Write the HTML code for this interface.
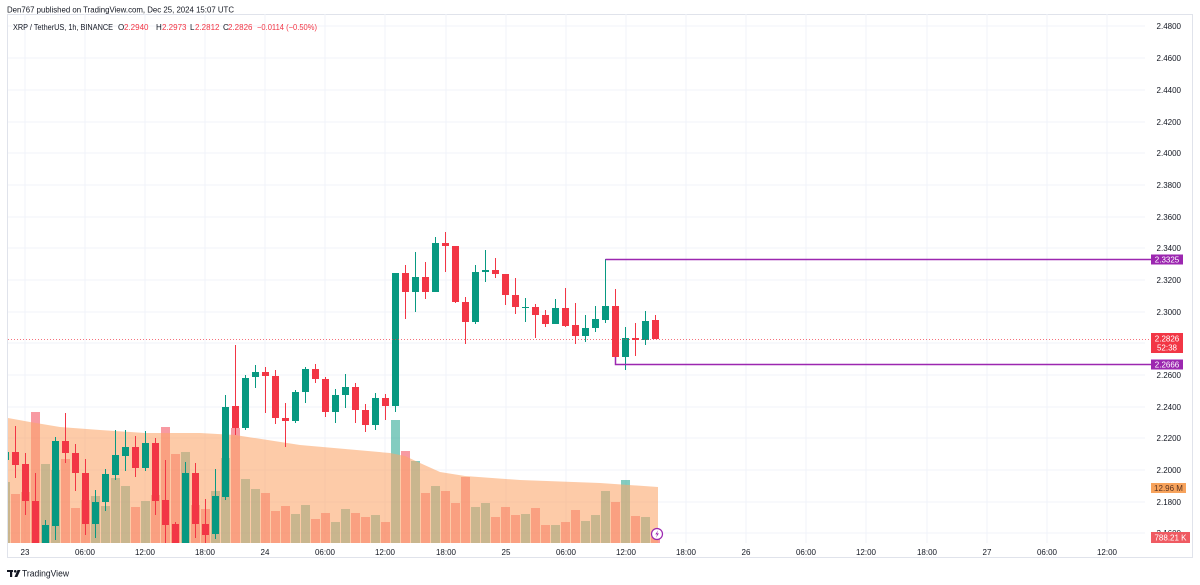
<!DOCTYPE html>
<html><head><meta charset="utf-8"><style>
html,body{margin:0;padding:0;background:#fff;}
svg{display:block;}
text{font-family:"Liberation Sans",sans-serif;}
.u{fill:rgba(8,153,129,0.5)}
.d{fill:rgba(242,54,69,0.5)}
.g{fill:#089981}
.r{fill:#f23645}
.ax{font-size:8px;fill:#131722}
</style></head><body>
<svg width="1200" height="585" viewBox="0 0 1200 585" xmlns="http://www.w3.org/2000/svg">
<defs><clipPath id="pl"><rect x="8" y="14" width="1137" height="529"/></clipPath></defs>
<rect x="0" y="0" width="1200" height="585" fill="#fff"/>
<rect x="7.5" y="14.5" width="1185" height="543" fill="none" stroke="#e0e3eb" stroke-width="1"/>
<g stroke="#f0f3fa" stroke-width="1" shape-rendering="crispEdges">
<line x1="8" y1="26" x2="1145" y2="26"/><line x1="8" y1="58" x2="1145" y2="58"/><line x1="8" y1="90" x2="1145" y2="90"/><line x1="8" y1="122" x2="1145" y2="122"/><line x1="8" y1="153" x2="1145" y2="153"/><line x1="8" y1="185" x2="1145" y2="185"/><line x1="8" y1="217" x2="1145" y2="217"/><line x1="8" y1="248" x2="1145" y2="248"/><line x1="8" y1="280" x2="1145" y2="280"/><line x1="8" y1="312" x2="1145" y2="312"/><line x1="8" y1="343" x2="1145" y2="343"/><line x1="8" y1="375" x2="1145" y2="375"/><line x1="8" y1="407" x2="1145" y2="407"/><line x1="8" y1="438" x2="1145" y2="438"/><line x1="8" y1="470" x2="1145" y2="470"/><line x1="8" y1="502" x2="1145" y2="502"/><line x1="8" y1="533" x2="1145" y2="533"/>
<line x1="25" y1="14" x2="25" y2="543"/><line x1="85" y1="14" x2="85" y2="543"/><line x1="145" y1="14" x2="145" y2="543"/><line x1="205" y1="14" x2="205" y2="543"/><line x1="265" y1="14" x2="265" y2="543"/><line x1="325" y1="14" x2="325" y2="543"/><line x1="385" y1="14" x2="385" y2="543"/><line x1="446" y1="14" x2="446" y2="543"/><line x1="506" y1="14" x2="506" y2="543"/><line x1="566" y1="14" x2="566" y2="543"/><line x1="626" y1="14" x2="626" y2="543"/><line x1="686" y1="14" x2="686" y2="543"/><line x1="746" y1="14" x2="746" y2="543"/><line x1="806" y1="14" x2="806" y2="543"/><line x1="866" y1="14" x2="866" y2="543"/><line x1="927" y1="14" x2="927" y2="543"/><line x1="987" y1="14" x2="987" y2="543"/><line x1="1047" y1="14" x2="1047" y2="543"/><line x1="1107" y1="14" x2="1107" y2="543"/>
</g>
<g clip-path="url(#pl)" shape-rendering="crispEdges">
<rect class="u" x="1" y="482" width="9" height="61"/>
<rect class="d" x="11" y="494" width="9" height="49"/>
<rect class="d" x="21" y="492" width="9" height="51"/>
<rect class="d" x="31" y="412" width="9" height="131"/>
<rect class="u" x="41" y="464" width="9" height="79"/>
<rect class="u" x="51" y="470" width="9" height="73"/>
<rect class="d" x="61" y="459" width="9" height="84"/>
<rect class="d" x="71" y="508" width="9" height="35"/>
<rect class="d" x="81" y="500" width="9" height="43"/>
<rect class="u" x="91" y="496" width="9" height="47"/>
<rect class="u" x="101" y="506" width="9" height="37"/>
<rect class="u" x="111" y="478" width="9" height="65"/>
<rect class="u" x="121" y="486" width="9" height="57"/>
<rect class="d" x="131" y="507" width="9" height="36"/>
<rect class="u" x="141" y="501" width="9" height="42"/>
<rect class="d" x="151" y="495" width="9" height="48"/>
<rect class="d" x="161" y="427" width="9" height="116"/>
<rect class="d" x="171" y="454" width="9" height="89"/>
<rect class="u" x="181" y="452" width="9" height="91"/>
<rect class="d" x="191" y="505" width="9" height="38"/>
<rect class="d" x="201" y="509" width="9" height="34"/>
<rect class="u" x="211" y="491" width="9" height="52"/>
<rect class="u" x="221" y="458" width="9" height="85"/>
<rect class="d" x="231" y="428" width="9" height="115"/>
<rect class="u" x="241" y="479" width="9" height="64"/>
<rect class="u" x="251" y="489" width="9" height="54"/>
<rect class="d" x="261" y="493" width="9" height="50"/>
<rect class="d" x="271" y="511" width="9" height="32"/>
<rect class="d" x="281" y="506" width="9" height="37"/>
<rect class="u" x="291" y="514" width="9" height="29"/>
<rect class="u" x="301" y="505" width="9" height="38"/>
<rect class="d" x="311" y="519" width="9" height="24"/>
<rect class="d" x="321" y="513" width="9" height="30"/>
<rect class="u" x="331" y="522" width="9" height="21"/>
<rect class="u" x="341" y="509" width="9" height="34"/>
<rect class="d" x="351" y="513" width="9" height="30"/>
<rect class="d" x="361" y="517" width="9" height="26"/>
<rect class="u" x="371" y="515" width="9" height="28"/>
<rect class="d" x="381" y="522" width="9" height="21"/>
<rect class="u" x="391" y="420" width="9" height="123"/>
<rect class="d" x="401" y="451" width="9" height="92"/>
<rect class="u" x="411" y="461" width="9" height="82"/>
<rect class="d" x="421" y="493" width="9" height="50"/>
<rect class="u" x="431" y="486" width="9" height="57"/>
<rect class="d" x="441" y="491" width="9" height="52"/>
<rect class="d" x="451" y="503" width="9" height="40"/>
<rect class="d" x="461" y="477" width="9" height="66"/>
<rect class="u" x="471" y="507" width="9" height="36"/>
<rect class="u" x="481" y="503" width="9" height="40"/>
<rect class="d" x="491" y="517" width="9" height="26"/>
<rect class="d" x="501" y="507" width="9" height="36"/>
<rect class="d" x="511" y="515" width="9" height="28"/>
<rect class="u" x="521" y="514" width="9" height="29"/>
<rect class="d" x="531" y="508" width="9" height="35"/>
<rect class="d" x="541" y="525" width="9" height="18"/>
<rect class="u" x="551" y="525" width="9" height="18"/>
<rect class="d" x="561" y="522" width="9" height="21"/>
<rect class="d" x="571" y="510" width="9" height="33"/>
<rect class="u" x="581" y="521" width="9" height="22"/>
<rect class="u" x="591" y="515" width="9" height="28"/>
<rect class="u" x="601" y="491" width="9" height="52"/>
<rect class="d" x="611" y="502" width="9" height="41"/>
<rect class="u" x="621" y="480" width="9" height="63"/>
<rect class="d" x="631" y="516" width="9" height="27"/>
<rect class="u" x="641" y="517" width="9" height="26"/>
<rect class="d" x="651" y="537" width="9" height="6"/>
</g>
<polygon clip-path="url(#pl)" fill="rgba(252,165,105,0.58)" points="8,418 30,422 60,427 100,430 145,433 200,433 235,435 300,445 390,453 405,456 420,463 440,472 465,476 520,480 600,483 658,487 658,543 8,543"/>
<g clip-path="url(#pl)" shape-rendering="crispEdges">
<g class="g"><rect x="5" y="449" width="1" height="14"/><rect x="2" y="452" width="7" height="8"/></g>
<g class="r"><rect x="15" y="426" width="1" height="52"/><rect x="12" y="452" width="7" height="13"/></g>
<g class="r"><rect x="25" y="453" width="1" height="62"/><rect x="22" y="464" width="7" height="37"/></g>
<g class="r"><rect x="35" y="473" width="1" height="70"/><rect x="32" y="501" width="7" height="42"/></g>
<g class="g"><rect x="45" y="520" width="1" height="23"/><rect x="42" y="525" width="7" height="18"/></g>
<g class="g"><rect x="55" y="437" width="1" height="103"/><rect x="52" y="441" width="7" height="85"/></g>
<g class="r"><rect x="65" y="413" width="1" height="50"/><rect x="62" y="441" width="7" height="12"/></g>
<g class="r"><rect x="75" y="444" width="1" height="47"/><rect x="72" y="453" width="7" height="20"/></g>
<g class="r"><rect x="85" y="459" width="1" height="76"/><rect x="82" y="473" width="7" height="51"/></g>
<g class="g"><rect x="95" y="490" width="1" height="48"/><rect x="92" y="502" width="7" height="22"/></g>
<g class="g"><rect x="105" y="469" width="1" height="42"/><rect x="102" y="474" width="7" height="28"/></g>
<g class="g"><rect x="115" y="430" width="1" height="50"/><rect x="112" y="455" width="7" height="20"/></g>
<g class="g"><rect x="125" y="430" width="1" height="41"/><rect x="122" y="447" width="7" height="9"/></g>
<g class="r"><rect x="135" y="436" width="1" height="41"/><rect x="132" y="447" width="7" height="21"/></g>
<g class="g"><rect x="145" y="431" width="1" height="40"/><rect x="142" y="443" width="7" height="25"/></g>
<g class="r"><rect x="155" y="438" width="1" height="77"/><rect x="152" y="443" width="7" height="58"/></g>
<g class="r"><rect x="165" y="460" width="1" height="83"/><rect x="162" y="500" width="7" height="25"/></g>
<g class="r"><rect x="175" y="522" width="1" height="21"/><rect x="172" y="524" width="7" height="19"/></g>
<g class="g"><rect x="185" y="462" width="1" height="81"/><rect x="182" y="473" width="7" height="70"/></g>
<g class="r"><rect x="195" y="463" width="1" height="75"/><rect x="192" y="473" width="7" height="51"/></g>
<g class="r"><rect x="205" y="499" width="1" height="44"/><rect x="202" y="524" width="7" height="11"/></g>
<g class="g"><rect x="215" y="469" width="1" height="70"/><rect x="212" y="496" width="7" height="38"/></g>
<g class="g"><rect x="225" y="395" width="1" height="105"/><rect x="222" y="407" width="7" height="90"/></g>
<g class="r"><rect x="235" y="345" width="1" height="90"/><rect x="232" y="406" width="7" height="22"/></g>
<g class="g"><rect x="245" y="375" width="1" height="55"/><rect x="242" y="378" width="7" height="50"/></g>
<g class="g"><rect x="255" y="365" width="1" height="23"/><rect x="252" y="372" width="7" height="5"/></g>
<g class="r"><rect x="265" y="367" width="1" height="46"/><rect x="262" y="372" width="7" height="4"/></g>
<g class="r"><rect x="275" y="370" width="1" height="54"/><rect x="272" y="376" width="7" height="42"/></g>
<g class="r"><rect x="285" y="403" width="1" height="44"/><rect x="282" y="418" width="7" height="3"/></g>
<g class="g"><rect x="295" y="390" width="1" height="33"/><rect x="292" y="392" width="7" height="29"/></g>
<g class="g"><rect x="305" y="367" width="1" height="36"/><rect x="302" y="369" width="7" height="23"/></g>
<g class="r"><rect x="315" y="364" width="1" height="19"/><rect x="312" y="369" width="7" height="10"/></g>
<g class="r"><rect x="325" y="377" width="1" height="40"/><rect x="322" y="379" width="7" height="33"/></g>
<g class="g"><rect x="335" y="389" width="1" height="34"/><rect x="332" y="395" width="7" height="17"/></g>
<g class="g"><rect x="345" y="374" width="1" height="34"/><rect x="342" y="387" width="7" height="8"/></g>
<g class="r"><rect x="355" y="383" width="1" height="40"/><rect x="352" y="387" width="7" height="23"/></g>
<g class="r"><rect x="365" y="404" width="1" height="28"/><rect x="362" y="410" width="7" height="15"/></g>
<g class="g"><rect x="375" y="393" width="1" height="37"/><rect x="372" y="398" width="7" height="27"/></g>
<g class="r"><rect x="385" y="394" width="1" height="26"/><rect x="382" y="398" width="7" height="8"/></g>
<g class="g"><rect x="395" y="273" width="1" height="139"/><rect x="392" y="273" width="7" height="133"/></g>
<g class="r"><rect x="405" y="265" width="1" height="54"/><rect x="402" y="273" width="7" height="19"/></g>
<g class="g"><rect x="415" y="252" width="1" height="60"/><rect x="412" y="277" width="7" height="15"/></g>
<g class="r"><rect x="425" y="262" width="1" height="37"/><rect x="422" y="277" width="7" height="15"/></g>
<g class="g"><rect x="435" y="237" width="1" height="55"/><rect x="432" y="243" width="7" height="49"/></g>
<g class="r"><rect x="445" y="232" width="1" height="40"/><rect x="442" y="243" width="7" height="3"/></g>
<g class="r"><rect x="455" y="246" width="1" height="57"/><rect x="452" y="246" width="7" height="56"/></g>
<g class="r"><rect x="465" y="297" width="1" height="47"/><rect x="462" y="302" width="7" height="20"/></g>
<g class="g"><rect x="475" y="265" width="1" height="59"/><rect x="472" y="272" width="7" height="50"/></g>
<g class="g"><rect x="485" y="250" width="1" height="32"/><rect x="482" y="270" width="7" height="2"/></g>
<g class="r"><rect x="495" y="258" width="1" height="20"/><rect x="492" y="270" width="7" height="4"/></g>
<g class="r"><rect x="505" y="274" width="1" height="31"/><rect x="502" y="274" width="7" height="21"/></g>
<g class="r"><rect x="515" y="278" width="1" height="36"/><rect x="512" y="295" width="7" height="12"/></g>
<g class="g"><rect x="525" y="298" width="1" height="24"/><rect x="522" y="307" width="7" height="1"/></g>
<g class="r"><rect x="535" y="304" width="1" height="34"/><rect x="532" y="307" width="7" height="8"/></g>
<g class="r"><rect x="545" y="310" width="1" height="17"/><rect x="542" y="315" width="7" height="9"/></g>
<g class="g"><rect x="555" y="299" width="1" height="25"/><rect x="552" y="308" width="7" height="16"/></g>
<g class="r"><rect x="565" y="288" width="1" height="39"/><rect x="562" y="308" width="7" height="18"/></g>
<g class="r"><rect x="575" y="303" width="1" height="41"/><rect x="572" y="325" width="7" height="11"/></g>
<g class="g"><rect x="585" y="315" width="1" height="27"/><rect x="582" y="328" width="7" height="8"/></g>
<g class="g"><rect x="595" y="306" width="1" height="26"/><rect x="592" y="319" width="7" height="9"/></g>
<g class="g"><rect x="605" y="259" width="1" height="64"/><rect x="602" y="306" width="7" height="14"/></g>
<g class="r"><rect x="615" y="289" width="1" height="68"/><rect x="612" y="306" width="7" height="51"/></g>
<g class="g"><rect x="625" y="327" width="1" height="43"/><rect x="622" y="338" width="7" height="19"/></g>
<g class="r"><rect x="635" y="323" width="1" height="33"/><rect x="632" y="338" width="7" height="2"/></g>
<g class="g"><rect x="645" y="311" width="1" height="34"/><rect x="642" y="321" width="7" height="19"/></g>
<g class="r"><rect x="655" y="315" width="1" height="24"/><rect x="652" y="320" width="7" height="19"/></g>
</g>
<line x1="8" y1="339.5" x2="1151" y2="339.5" stroke="#f23645" stroke-width="1" stroke-dasharray="1 2" opacity="0.7"/>
<g stroke="#9c27b0" stroke-width="1.5" fill="none">
<line x1="605.5" y1="259.5" x2="1151" y2="259.5"/>
<polyline points="615.5,357 615.5,364.5 1151,364.5"/>
</g>
<circle cx="657" cy="534" r="5.5" fill="#fff" stroke="#9c27b0" stroke-width="1.2"/>
<path d="M658.2,530.2 L655.3,534.4 L657.2,534.4 L655.9,537.8 L658.9,533.4 L657,533.4 Z" fill="#9c27b0"/>
<g class="ax" text-anchor="end">
<text x="1181" y="29">2.4800</text><text x="1181" y="61">2.4600</text><text x="1181" y="93">2.4400</text><text x="1181" y="125">2.4200</text><text x="1181" y="156">2.4000</text><text x="1181" y="188">2.3800</text><text x="1181" y="220">2.3600</text><text x="1181" y="251">2.3400</text><text x="1181" y="283">2.3200</text><text x="1181" y="315">2.3000</text><text x="1181" y="346">2.2800</text><text x="1181" y="378">2.2600</text><text x="1181" y="410">2.2400</text><text x="1181" y="441">2.2200</text><text x="1181" y="473">2.2000</text><text x="1181" y="505">2.1800</text><text x="1181" y="536">2.1600</text>
</g>
<rect x="1151" y="254.5" width="32" height="10" fill="#9c27b0"/>
<text x="1167" y="262.5" text-anchor="middle" font-size="8" fill="#fff">2.3325</text>
<rect x="1151" y="333" width="32" height="20" fill="#f23645"/>
<text x="1167" y="341.5" text-anchor="middle" font-size="8" fill="#fff">2.2826</text>
<text x="1167" y="350.5" text-anchor="middle" font-size="8" fill="#fff">52:38</text>
<rect x="1151" y="359.5" width="32" height="10" fill="#9c27b0"/>
<text x="1167" y="367.5" text-anchor="middle" font-size="8" fill="#fff">2.2666</text>
<rect x="1151" y="483" width="35" height="10" fill="#f7a35c"/>
<text x="1168.5" y="491" text-anchor="middle" font-size="8" fill="#5a3320">12.96 M</text>
<rect x="1151" y="532" width="39" height="11" fill="#ef5a62"/>
<text x="1170.5" y="540.5" text-anchor="middle" font-size="8" fill="#fff">788.21 K</text>
<g class="ax" text-anchor="middle">
<text x="25" y="555">23</text><text x="85" y="555">06:00</text><text x="145" y="555">12:00</text><text x="205" y="555">18:00</text><text x="265" y="555">24</text><text x="325" y="555">06:00</text><text x="385" y="555">12:00</text><text x="446" y="555">18:00</text><text x="506" y="555">25</text><text x="566" y="555">06:00</text><text x="626" y="555">12:00</text><text x="686" y="555">18:00</text><text x="746" y="555">26</text><text x="806" y="555">06:00</text><text x="866" y="555">12:00</text><text x="927" y="555">18:00</text><text x="987" y="555">27</text><text x="1047" y="555">06:00</text><text x="1107" y="555">12:00</text>
</g>
<text x="7" y="12.5" font-size="8.5" fill="#131722" textLength="227" lengthAdjust="spacingAndGlyphs">Den767 published on TradingView.com, Dec 25, 2024 15:07 UTC</text>
<g font-size="8" fill="#131722">
<text x="13" y="30" textLength="100" lengthAdjust="spacingAndGlyphs">XRP / TetherUS, 1h, BINANCE</text>
<text x="118" y="30">O</text><text x="124" y="30" fill="#f23645">2.2940</text>
<text x="156" y="30">H</text><text x="162" y="30" fill="#f23645">2.2973</text>
<text x="190" y="30">L</text><text x="195" y="30" fill="#f23645">2.2812</text>
<text x="223" y="30">C</text><text x="228" y="30" fill="#f23645">2.2826</text>
<text x="257" y="30" fill="#f23645" textLength="60" lengthAdjust="spacingAndGlyphs">−0.0114 (−0.50%)</text>
</g>
<g fill="#131722">
<rect x="7" y="570" width="6" height="2"/>
<rect x="10" y="570" width="2.2" height="7"/>
<circle cx="15.2" cy="571.3" r="1.3"/>
<polygon points="17.5,570 20.5,570 17.3,577 14.5,577"/>
</g>
<text x="22" y="576.5" font-size="9" fill="#131722" textLength="47" lengthAdjust="spacingAndGlyphs">TradingView</text>
</svg>
</body></html>
